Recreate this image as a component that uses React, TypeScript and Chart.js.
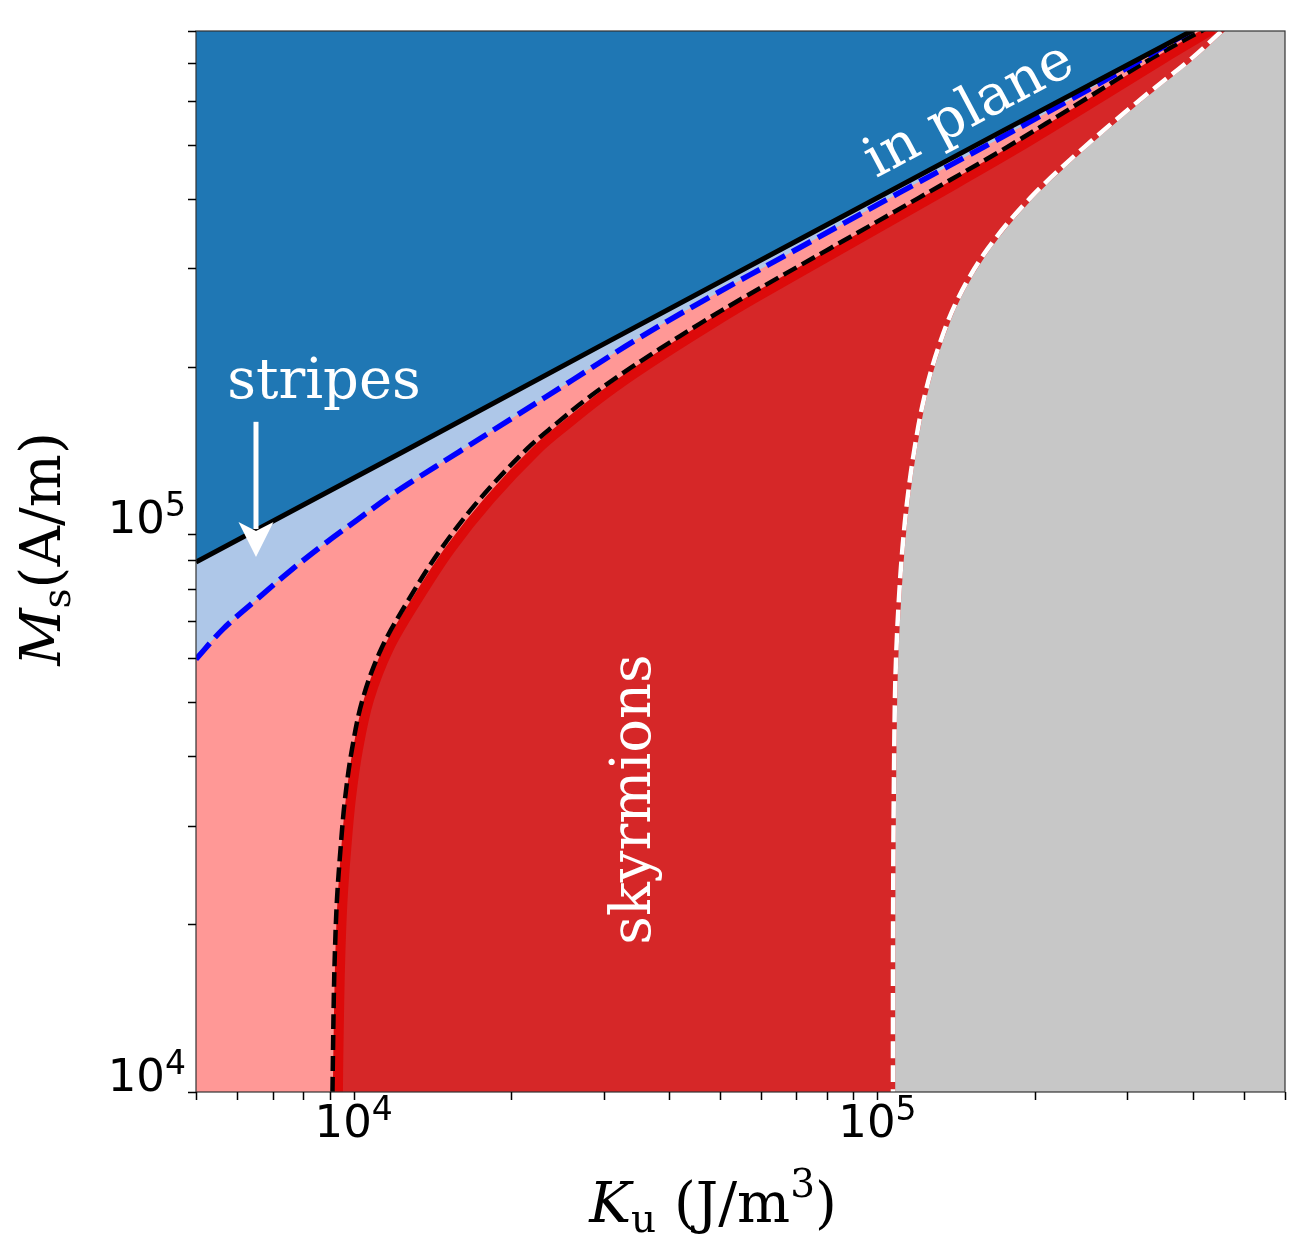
import React, { useEffect, useRef } from "react";
import { Chart, registerables } from "chart.js";

Chart.register(...registerables);

// Axis limits: uniaxial anisotropy Ku (J/m^3) and saturation magnetisation Ms (A/m)
const kuRange = [5000, 600000];
const msRange = [10000, 800000];

const kuTicks = [
  5000, 6000, 7000, 8000, 9000, 10000, 20000, 30000, 40000, 50000, 60000, 70000, 80000, 90000,
  100000, 200000, 300000, 400000, 500000, 600000,
];
const msTicks = [
  10000, 20000, 30000, 40000, 50000, 60000, 70000, 80000, 90000, 100000, 200000, 300000, 400000,
  500000, 600000, 700000, 800000,
];
const kuLabelled = [10000, 100000];
const msLabelled = [10000, 100000];

// Out-of-plane / in-plane boundary
const inPlaneKu = [5000, 12300, 29500, 71100, 171300, 403000];
const inPlaneMs = [89200, 140000, 217700, 338500, 526400, 805000];

// Stripe-domain boundary
const stripeKu = [
  5000, 5630, 6537, 7557, 8737, 10150, 11890, 12980, 15890, 20410, 26220, 34150, 45830, 71140,
  110400, 171300, 266000, 401000,
];
const stripeMs = [
  59740, 67650, 76560, 85980, 95740, 106200, 118200, 124800, 140700, 163300, 189500, 221800,
  260600, 327200, 410800, 513700, 644900, 805000,
];

// Skyrmion boundary (simulation)
const skyrmionKu = [
  9332, 9386, 9436, 9523, 9675, 9873, 10190, 10700, 11650, 13240, 15300, 18240, 22480, 25600,
  29410, 34300, 40520, 48310, 58110, 85560, 126000, 184700, 264900, 352400, 437100,
];
const skyrmionMs = [
  10000, 14630, 17990, 22130, 27210, 33470, 41170, 50620, 62260, 76560, 94180, 115800, 142400,
  157900, 175200, 194300, 215400, 238900, 265000, 325900, 400800, 492800, 606000, 715200, 806500,
];

// Skyrmion boundary (analytical model)
const skyrmionModelKu = [
  9110, 9162, 9211, 9292, 9436, 9624, 9925, 10400, 11280, 12750, 14680, 17420, 21420, 24330,
  27890, 32530, 38450, 45830, 55130, 81170, 119500, 175200, 251200, 334300, 421900,
];
const skyrmionModelMs = [
  10000, 14630, 17990, 22130, 27210, 33470, 41170, 50620, 62260, 76560, 94180, 115800, 142400,
  157900, 175200, 194300, 215400, 238900, 265000, 325900, 400800, 492800, 606000, 715200, 806500,
];

// Uniform (single-domain) boundary
const uniformKu = [
  107070, 107070, 107160, 107440, 108000, 108700, 109900, 111600, 114100, 117700, 122700, 130500,
  142500, 162600, 195500, 246800, 319900, 398500, 458600,
];
const uniformMs = [
  10000, 14630, 22130, 33470, 50620, 62260, 76560, 94180, 115800, 142400, 175200, 215400, 265000,
  325900, 400800, 492800, 606000, 715200, 806500,
];

// Region labels and the stripes arrow, in data units
const stripesLabelAt = { ku: 8778, ms: 175900 };
const inPlaneLabelAt = { ku: 99350, ms: 435400 };
const skyrmionLabelAt = { ku: 36790, ms: 33470 };
const arrowKu = 6509;
const arrowMs = [159250, 91100];

const SERIF = '"DejaVu Serif", serif';
const SANS = '"DejaVu Sans", sans-serif';

const pts = (ku: number[], ms: number[]) => ku.map((x, i) => ({ x, y: ms[i] }));
// Boundary closed along (below) the bottom axis so the whole area above it can be filled
const fromFloor = (ku: number[], ms: number[]) => [
  { x: kuRange[0], y: msRange[0] / 2 },
  { x: ku[0], y: msRange[0] / 2 },
  ...pts(ku, ms),
];

type Run = { text: string; font: string; dy: number };

function runsWidth(ctx: CanvasRenderingContext2D, runs: Run[]) {
  let w = 0;
  for (const r of runs) {
    ctx.font = r.font;
    w += ctx.measureText(r.text).width;
  }
  return w;
}

function drawRuns(ctx: CanvasRenderingContext2D, runs: Run[], x: number, y: number) {
  let cx = x;
  ctx.textAlign = "left";
  ctx.textBaseline = "alphabetic";
  for (const r of runs) {
    ctx.font = r.font;
    ctx.fillText(r.text, cx, y + r.dy);
    cx += ctx.measureText(r.text).width;
  }
}

const powerRuns = (v: number): Run[] => [
  { text: "10", font: `45px ${SANS}`, dy: 0 },
  { text: String(Math.round(Math.log10(v))), font: `33px ${SANS}`, dy: -17 },
];

const decor = {
  id: "decor",
  beforeDatasetsDraw(chart: any) {
    const { ctx, chartArea: a } = chart;
    ctx.save();
    ctx.fillStyle = "#c7c7c7";
    ctx.fillRect(a.left, a.top, a.right - a.left, a.bottom - a.top);
    ctx.restore();
  },
  afterDatasetsDraw(chart: any) {
    const { ctx, chartArea: a } = chart;
    const sx = chart.scales.x;
    const sy = chart.scales.y;
    ctx.save();
    ctx.beginPath();
    ctx.rect(a.left, a.top, a.right - a.left, a.bottom - a.top);
    ctx.clip();
    ctx.fillStyle = "#ffffff";
    ctx.strokeStyle = "#ffffff";

    // stripes
    ctx.font = `56px ${SERIF}`;
    ctx.textAlign = "center";
    ctx.textBaseline = "alphabetic";
    ctx.fillText("stripes", sx.getPixelForValue(stripesLabelAt.ku), sy.getPixelForValue(stripesLabelAt.ms));

    // in plane
    ctx.save();
    ctx.translate(sx.getPixelForValue(inPlaneLabelAt.ku), sy.getPixelForValue(inPlaneLabelAt.ms));
    ctx.rotate((-28 * Math.PI) / 180);
    ctx.textAlign = "left";
    ctx.fillText("in plane", 0, 0);
    ctx.restore();

    // skyrmions
    ctx.save();
    ctx.translate(sx.getPixelForValue(skyrmionLabelAt.ku), sy.getPixelForValue(skyrmionLabelAt.ms));
    ctx.rotate(-Math.PI / 2);
    ctx.textAlign = "center";
    ctx.fillText("skyrmions", 0, 0);
    ctx.restore();

    // arrow pointing at the stripe region
    const ax = sx.getPixelForValue(arrowKu);
    const ay0 = sy.getPixelForValue(arrowMs[0]);
    const ay1 = sy.getPixelForValue(arrowMs[1]);
    ctx.lineWidth = 5;
    ctx.beginPath();
    ctx.moveTo(ax, ay0);
    ctx.lineTo(ax, ay1 - 28);
    ctx.stroke();
    ctx.beginPath();
    ctx.moveTo(ax, ay1);
    ctx.lineTo(ax - 17.5, ay1 - 35);
    ctx.lineTo(ax, ay1 - 26);
    ctx.lineTo(ax + 17.5, ay1 - 35);
    ctx.closePath();
    ctx.fill();
    ctx.restore();
  },
  afterDraw(chart: any) {
    const { ctx, chartArea: a } = chart;
    const sx = chart.scales.x;
    const sy = chart.scales.y;
    ctx.save();

    // frame
    ctx.strokeStyle = "#333333";
    ctx.lineWidth = 1.2;
    ctx.strokeRect(a.left, a.top, a.right - a.left, a.bottom - a.top);

    // ticks
    ctx.strokeStyle = "#000000";
    ctx.lineWidth = 1.5;
    ctx.beginPath();
    for (const v of kuTicks) {
      const x = Math.round(sx.getPixelForValue(v)) + 0.5;
      ctx.moveTo(x, a.bottom);
      ctx.lineTo(x, a.bottom + 8);
    }
    for (const v of msTicks) {
      const y = Math.round(sy.getPixelForValue(v)) + 0.5;
      ctx.moveTo(a.left, y);
      ctx.lineTo(a.left - 8, y);
    }
    ctx.stroke();

    // tick labels
    ctx.fillStyle = "#000000";
    for (const v of kuLabelled) {
      const runs = powerRuns(v);
      const w = runsWidth(ctx, runs);
      drawRuns(ctx, runs, sx.getPixelForValue(v) - w / 2, a.bottom + 45);
    }
    for (const v of msLabelled) {
      const runs = powerRuns(v);
      const w = runsWidth(ctx, runs);
      drawRuns(ctx, runs, a.left - 10 - w, sy.getPixelForValue(v) - 1);
    }

    // axis titles
    const xTitle: Run[] = [
      { text: "K", font: `italic 56px ${SERIF}`, dy: 0 },
      { text: "u", font: `39px ${SERIF}`, dy: 10 },
      { text: " (J/m", font: `56px ${SERIF}`, dy: 0 },
      { text: "3", font: `39px ${SERIF}`, dy: -25 },
      { text: ")", font: `56px ${SERIF}`, dy: 0 },
    ];
    const xw = runsWidth(ctx, xTitle);
    drawRuns(ctx, xTitle, 713 - xw / 2, a.bottom + 130);

    const yTitle: Run[] = [
      { text: "M", font: `italic 56px ${SERIF}`, dy: 0 },
      { text: "s", font: `39px ${SERIF}`, dy: 10 },
      { text: "(A/m)", font: `56px ${SERIF}`, dy: 0 },
    ];
    const yw = runsWidth(ctx, yTitle);
    ctx.save();
    ctx.translate(60, 549);
    ctx.rotate(-Math.PI / 2);
    drawRuns(ctx, yTitle, -yw / 2, 0);
    ctx.restore();

    ctx.restore();
  },
};

export default function App() {
  const canvasRef = useRef<HTMLCanvasElement | null>(null);

  useEffect(() => {
    const canvas = canvasRef.current;
    if (!canvas) return;

    const base = {
      pointRadius: 0,
      pointHoverRadius: 0,
      tension: 0.35,
      capBezierPoints: false,
      clip: 0,
      borderCapStyle: "butt",
      borderJoinStyle: "round",
    };

    const chart = new Chart(canvas, {
      type: "line",
      data: {
        datasets: [
          {
            ...base,
            label: "in plane",
            data: pts(inPlaneKu, inPlaneMs),
            borderColor: "#000000",
            borderWidth: 5,
            tension: 0,
            fill: "end",
            backgroundColor: "#1f77b4",
          },
          {
            ...base,
            label: "stripes",
            data: pts(stripeKu, stripeMs),
            borderColor: "#0000ff",
            borderWidth: 5.5,
            borderDash: [21, 8],
            fill: "end",
            backgroundColor: "#aec7e8",
          },
          {
            ...base,
            label: "skyrmions (model)",
            data: pts(skyrmionModelKu, skyrmionModelMs),
            borderColor: "#000000",
            borderWidth: 4.5,
            borderDash: [15, 6],
            fill: false,
          },
          {
            ...base,
            label: "skyrmions",
            data: fromFloor(skyrmionKu, skyrmionMs),
            borderColor: "#dd0a0a",
            borderWidth: 10,
            fill: "end",
            backgroundColor: "#ff9896",
          },
          {
            ...base,
            label: "uniform (dashes)",
            data: fromFloor(uniformKu, uniformMs),
            borderColor: "#ffffff",
            borderWidth: 4.5,
            borderDash: [17, 7],
            fill: false,
          },
          {
            ...base,
            label: "uniform",
            data: fromFloor(uniformKu, uniformMs),
            borderColor: "#d62728",
            borderWidth: 4.5,
            fill: "end",
            backgroundColor: "#d62728",
          },
        ] as any,
      },
      options: {
        animation: false,
        responsive: false,
        devicePixelRatio: 1,
        events: [],
        layout: { padding: { top: 31, right: 11, left: 0, bottom: 0 } },
        plugins: {
          legend: { display: false },
          tooltip: { enabled: false },
          title: { display: false },
        },
        scales: {
          x: {
            type: "logarithmic",
            min: kuRange[0],
            max: kuRange[1],
            grid: { display: false },
            border: { display: false },
            ticks: { display: false },
            afterBuildTicks: (s: any) => {
              s.ticks = kuTicks.map((value) => ({ value }));
            },
            afterFit: (s: any) => {
              s.height = 146;
            },
          },
          y: {
            type: "logarithmic",
            min: msRange[0],
            max: msRange[1],
            grid: { display: false },
            border: { display: false },
            ticks: { display: false },
            afterBuildTicks: (s: any) => {
              s.ticks = msTicks.map((value) => ({ value }));
            },
            afterFit: (s: any) => {
              s.width = 196;
            },
          },
        },
      } as any,
      plugins: [decor],
    });

    return () => chart.destroy();
  }, []);

  return (
    <div style={{ position: "absolute", left: 0, top: 0, width: 1296, height: 1238, background: "#ffffff" }}>
      <canvas ref={canvasRef} width={1296} height={1238} style={{ display: "block", width: 1296, height: 1238 }} />
    </div>
  );
}
